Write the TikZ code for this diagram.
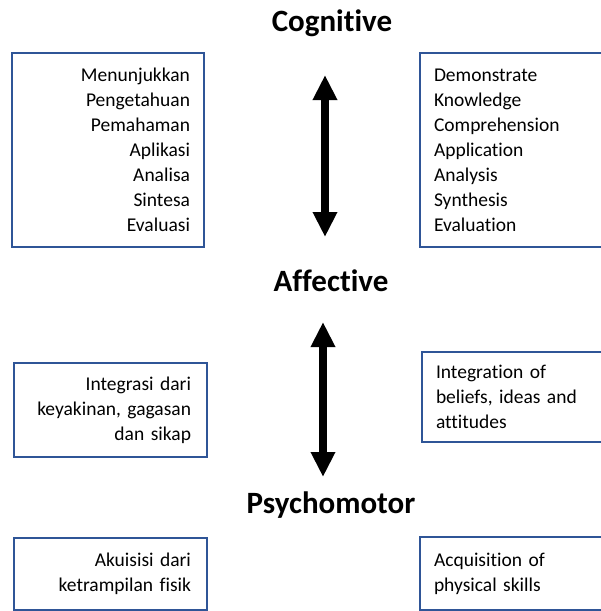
\documentclass[tikz,border=0pt]{standalone}
\usepackage{fontspec}
\setmainfont{Carlito}[RawFeature={-liga;-clig;-calt;-dlig}]
\usetikzlibrary{arrows.meta}
\definecolor{boxblue}{RGB}{47,85,151}
\begin{document}
\begin{tikzpicture}[x=1pt,y=-1pt,
  title/.style={font=\bfseries\fontsize{31}{36}\selectfont, anchor=base, inner sep=0pt},
  listbox/.style={draw=boxblue, line width=1.5pt, rectangle, inner xsep=14pt, inner ysep=0pt,
    font=\fontsize{19.5}{25}\selectfont},
  leftbox/.style={listbox, align=right},
  rightbox/.style={listbox, align=left},
  bigarrow/.style={line width=8pt, {Triangle[length=25pt,width=23pt]}-{Triangle[length=25pt,width=23pt]}}
]
\clip (0,0) rectangle (601,611);
\fill[white] (0,0) rectangle (601,611);

% level headings
\node[title] (cog) at (332,31) {Cognitive};
\node[title] (aff) at (331,291) {Affective};
\node[title] (psy) at (331,513) {Psychomotor};

% cognitive boxes
\node[leftbox, text width=164pt, minimum width=192pt, minimum height=194pt] (cogL) at (108,150)
  {Menunjukkan\\Pengetahuan\\Pemahaman\\Aplikasi\\Analisa\\Sintesa\\Evaluasi};
\node[rightbox, text width=155pt, minimum width=183pt, minimum height=194pt] (cogR) at (511.5,150)
  {Demonstrate\\Knowledge\\Comprehension\\Application\\Analysis\\Synthesis\\Evaluation};

% affective boxes
\node[leftbox, inner xsep=16pt, text width=161pt, minimum width=193pt, minimum height=94pt] (affL) at (110.5,410)
  {Integrasi dari\\keyakinan, gagasan\\dan sikap};
\node[rightbox, text width=153pt, minimum width=181pt, minimum height=90pt] (affR) at (512.5,397)
  {Integration of\\beliefs, ideas and\\attitudes};

% psychomotor boxes
\node[leftbox, inner xsep=16pt, text width=161pt, minimum width=193pt, minimum height=72pt] (psyL) at (110.5,574)
  {Akuisisi dari\\ketrampilan fisik};
\node[rightbox, text width=155pt, minimum width=183pt, minimum height=73pt] (psyR) at (511.5,573.5)
  {Acquisition of\\physical skills};

% double-headed arrows between levels
\coordinate (c1) at (325,75);
\coordinate (a1) at (325,237);
\coordinate (a2) at (323,322);
\coordinate (p2) at (323,477);
\draw[bigarrow] (c1) -- (a1);
\draw[bigarrow] (a2) -- (p2);
\end{tikzpicture}
\end{document}
